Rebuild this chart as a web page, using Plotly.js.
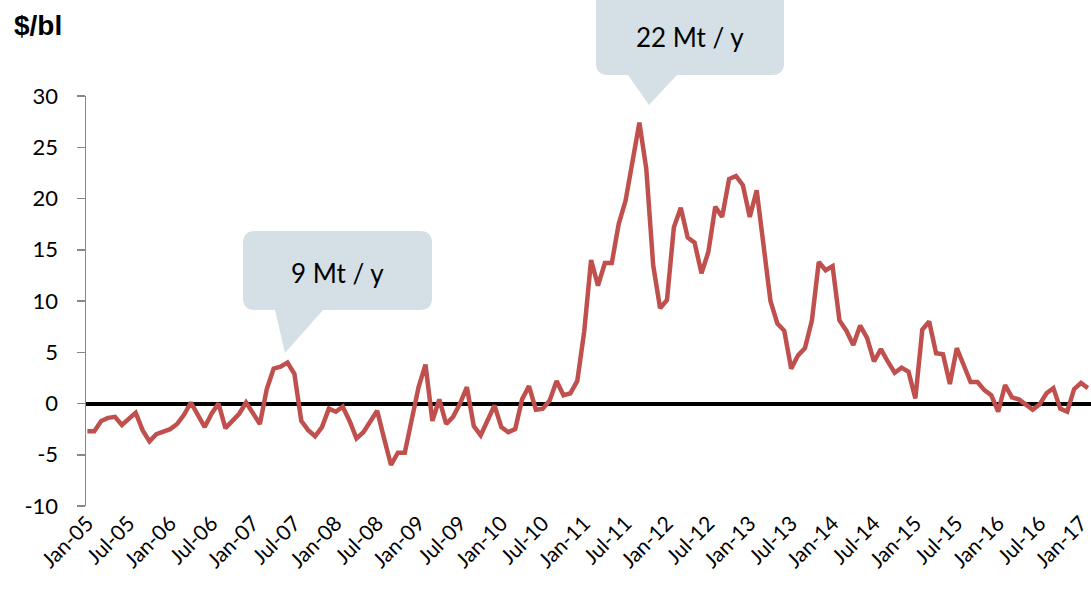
<!DOCTYPE html>
<html>
<head>
<meta charset="utf-8">
<script src="https://cdn.plot.ly/plotly-3.0.1.min.js"></script>
<style>
  html, body { margin: 0; padding: 0; background: #ffffff; }
  #chart { width: 1091px; height: 594px; }
</style>
</head>
<body>
<div id="chart"></div>
<script>
// ---- Data ----
const monthNames = ["Jan","Feb","Mar","Apr","May","Jun","Jul","Aug","Sep","Oct","Nov","Dec"];
const startYear = 2005;
const spread = [
  -2.7,-2.7,-1.7,-1.4,-1.3,-2.1,-1.5,-0.9,-2.6,-3.7,-3.0,-2.7,
  -2.5,-2.0,-1.1,0.1,-1.2,-2.3,-1.0,0.0,-2.4,-1.7,-1.0,0.1,
  -1.0,-2.0,1.4,3.4,3.6,4.0,2.9,-1.7,-2.6,-3.2,-2.3,-0.5,
  -0.8,-0.3,-1.7,-3.4,-2.8,-1.8,-0.7,-3.4,-6.0,-4.8,-4.8,-1.6,
  1.6,3.8,-1.7,0.4,-2.0,-1.3,0.0,1.6,-2.2,-3.1,-1.6,-0.2,
  -2.3,-2.8,-2.5,0.4,1.7,-0.6,-0.5,0.3,2.2,0.8,1.0,2.2,
  7.0,14.0,11.5,13.7,13.7,17.5,19.8,23.4,27.4,22.9,13.5,9.3,
  10.1,17.2,19.1,16.2,15.7,12.7,14.8,19.2,18.2,21.9,22.2,21.3,
  18.2,20.8,15.7,10.0,7.8,7.1,3.4,4.7,5.4,8.1,13.8,13.0,
  13.4,8.1,7.1,5.7,7.6,6.4,4.1,5.3,4.1,3.0,3.5,3.1,
  0.5,7.2,8.0,4.9,4.8,1.9,5.4,3.8,2.1,2.1,1.3,0.8,
  -0.8,1.8,0.6,0.4,-0.1,-0.6,-0.1,1.0,1.5,-0.5,-0.8,1.4,
  2.0,1.5
];
// month categories (Jan-05 ... ) built from the start year
const months = spread.map((_, i) => {
  const y = startYear + Math.floor(i / 12);
  return monthNames[i % 12] + "-" + String(y).slice(2);
});
const tickLabels = ["Jan-05","Jul-05","Jan-06","Jul-06","Jan-07","Jul-07","Jan-08","Jul-08",
  "Jan-09","Jul-09","Jan-10","Jul-10","Jan-11","Jul-11","Jan-12","Jul-12","Jan-13","Jul-13",
  "Jan-14","Jul-14","Jan-15","Jul-15","Jan-16","Jul-16","Jan-17"];
const yTicks = [-10,-5,0,5,10,15,20,25,30];
const yTickText = ["-10","-5","0","5","10","15","20","25","30"];
const unitLabel = "$/bl";
const callouts = [
  {text: "9 Mt / y",  box: [243, 432, 231, 310], tail: [275, 323, 285, 353], textPos: [337, 273]},
  {text: "22 Mt / y", box: [596, 784, -12, 75],  tail: [628, 677, 649, 105], textPos: [690, 37]}
];

// ---- Layout geometry (pixels) ----
const W = 1091, H = 594;
const M = {l: 86, r: 0, t: 96, b: 88};
const PW = W - M.l - M.r, PH = H - M.t - M.b;
const px = x => (x - M.l) / PW;
const py = y => (H - M.b - y) / PH;

function bubblePath(c) {
  const [L, R, T, B] = c.box, r = 12;
  const [t1, t2, tx, ty] = c.tail;
  const P = (x, y) => px(x).toFixed(5) + "," + py(y).toFixed(5);
  return "M" + P(L + r, T) + " L" + P(R - r, T) + " Q" + P(R, T) + " " + P(R, T + r) +
    " L" + P(R, B - r) + " Q" + P(R, B) + " " + P(R - r, B) +
    " L" + P(t2, B) + " L" + P(tx, ty) + " L" + P(t1, B) +
    " L" + P(L + r, B) + " Q" + P(L, B) + " " + P(L, B - r) +
    " L" + P(L, T + r) + " Q" + P(L, T) + " " + P(L + r, T) + " Z";
}

const shapes = callouts.map(c => ({
  type: "path", xref: "paper", yref: "paper", path: bubblePath(c),
  fillcolor: "#d5e0e6", line: {width: 0}, layer: "above"
}));

const annotations = callouts.map(c => ({
  xref: "paper", yref: "paper", x: px(c.textPos[0]), y: py(c.textPos[1]),
  xanchor: "center", yanchor: "middle", showarrow: false, text: c.text,
  font: {family: "Lato, 'Open Sans', sans-serif", size: 26, color: "#000000"}
}));
annotations.push({
  xref: "paper", yref: "paper", x: px(12), y: py(8), xanchor: "left", yanchor: "top",
  showarrow: false, text: "<b>" + unitLabel + "</b>",
  font: {family: "'Liberation Sans', Arial, sans-serif", size: 28, color: "#000000"}
});

const trace = {
  type: "scatter", mode: "lines", x: months, y: spread,
  line: {color: "#c0504d", width: 4.5, shape: "linear"},
  hoverinfo: "x+y", cliponaxis: true
};

const layout = {
  width: W, height: H,
  margin: M,
  paper_bgcolor: "#ffffff", plot_bgcolor: "#ffffff",
  showlegend: false,
  xaxis: {
    type: "category",
    range: [-0.2, -0.2 + PW / 6.9],
    tickmode: "array", tickvals: tickLabels, ticktext: tickLabels,
    tickangle: -45, ticks: "", showgrid: false, zeroline: false, showline: false,
    tickfont: {family: "Lato, 'Open Sans', sans-serif", size: 21, color: "#000000"},
    automargin: false
  },
  yaxis: {
    range: [-10, 30], tickmode: "array", tickvals: yTicks, ticktext: yTickText,
    ticks: "outside", ticklen: 8, tickwidth: 1.5, tickcolor: "#888888",
    showline: true, linecolor: "#888888", linewidth: 1.5,
    showgrid: false, zeroline: true, zerolinecolor: "#000000", zerolinewidth: 4,
    ticklabelstandoff: 14,
    tickfont: {family: "Lato, 'Open Sans', sans-serif", size: 22, color: "#000000"},
    automargin: false
  },
  shapes: shapes,
  annotations: annotations
};

Plotly.newPlot("chart", [trace], layout, {displayModeBar: false, staticPlot: true});
</script>
</body>
</html>
